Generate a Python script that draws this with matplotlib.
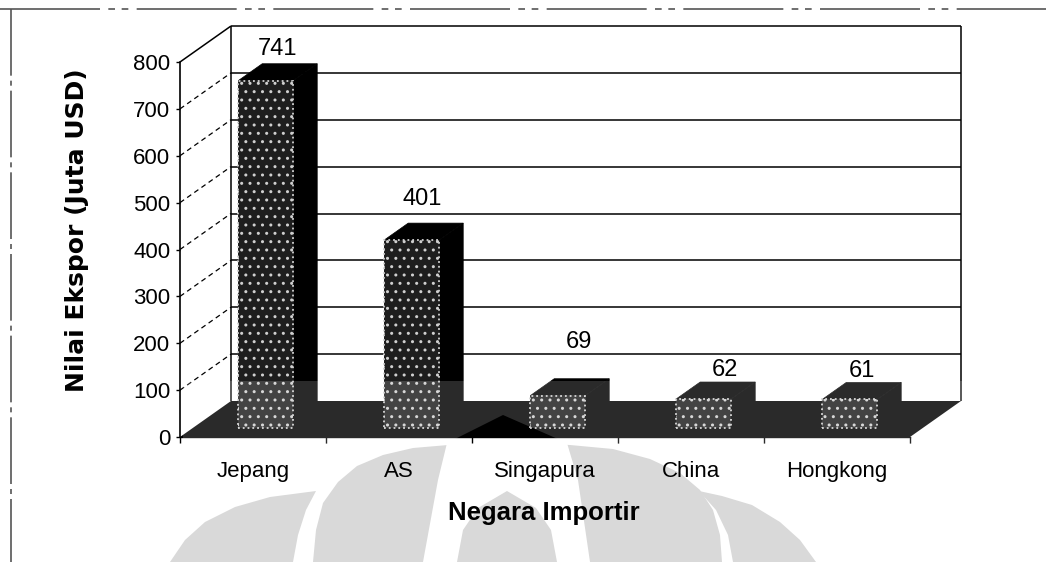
import matplotlib
matplotlib.use("Agg")
import matplotlib.pyplot as plt
from matplotlib.patches import Polygon
import numpy as np

# ---------------- data ----------------
categories = ["Jepang", "AS", "Singapura", "China", "Hongkong"]
values = [741, 401, 69, 62, 61]
y_ticks = [0, 100, 200, 300, 400, 500, 600, 700, 800]
x_label = "Negara Importir"
y_label = "Nilai Ekspor (Juta USD)"

# ---------------- style ----------------
plt.rcParams['font.family'] = ['Liberation Sans', 'DejaVu Sans']
W, H = 1046, 562
fig = plt.figure(figsize=(W / 100, H / 100), dpi=100)
fig.patch.set_facecolor('white')

# background layer in pixel coordinates (scan frame + watermark)
bg = fig.add_axes([0, 0, 1, 1], zorder=0)
bg.set_xlim(0, W)
bg.set_ylim(H, 0)
bg.axis('off')

wm = '#d9d9d9'
# watermark (logo) shapes
band_left = [(170, 562), (185, 540), (205, 522), (235, 507), (270, 497), (316, 491),
             (306, 510), (298, 535), (293, 562)]
band_right = [(816, 562), (800, 540), (780, 522), (752, 505), (722, 496), (699, 491),
              (716, 510), (728, 535), (733, 562)]
arch = [(313, 562), (316, 530), (323, 503), (338, 482), (357, 466), (383, 455), (413, 448),
        (460, 444), (520, 443), (570, 445), (613, 449), (650, 459), (680, 473), (700, 490),
        (713, 510), (720, 535), (722, 562)]
gap = [(423, 562), (438, 480), (447, 443), (567, 443), (578, 480), (590, 562)]
pillar = [(457, 562), (463, 530), (478, 508), (507, 491), (536, 508), (551, 530), (557, 562)]
for pts, col in [(band_left, wm), (band_right, wm), (arch, wm), (gap, 'white'), (pillar, wm)]:
    bg.add_patch(Polygon(pts, closed=True, facecolor=col, edgecolor='none'))
# scan frame
bg.plot([0, W], [9, 9], color='#555555', lw=1.2, ls=(0, (60, 5, 4, 4, 4, 5)))
bg.plot([11, 11], [9, H], color='#555555', lw=1.2, ls=(0, (40, 3, 3, 3)))

# ---------------- main axes (front plane) ----------------
x0_px, x1_px, y0_px, y1_px = 180, 910, 437, 62
ax = fig.add_axes([x0_px / W, 1 - y0_px / H, (x1_px - x0_px) / W, (y0_px - y1_px) / H], zorder=1)
ax.patch.set_alpha(0)
n = len(categories)
ax.set_xlim(-0.5, n - 0.5)
ax.set_ylim(0, y_ticks[-1])

# depth vector in data units (51 px right, 36 px up)
Dx = 51 / ((x1_px - x0_px) / n)
Dy = 36 / ((y0_px - y1_px) / y_ticks[-1])
xa, xb = -0.5, n - 0.5
ymax = y_ticks[-1]

kw = dict(clip_on=False, color='black', lw=1.1, solid_capstyle='butt')
# back wall frame
ax.plot([xa + Dx, xb + Dx], [ymax + Dy, ymax + Dy], zorder=1, **kw)
ax.plot([xb + Dx, xb + Dx], [Dy, ymax + Dy], zorder=1, **kw)
ax.plot([xa + Dx, xa + Dx], [Dy, ymax + Dy], zorder=1, **kw)
ax.plot([xa, xa + Dx], [ymax, ymax + Dy], zorder=1, **kw)
# gridlines on back wall and left wall
for v in y_ticks[1:-1]:
    ax.plot([xa + Dx, xb + Dx], [v + Dy, v + Dy], zorder=1, **kw)
    ax.plot([xa, xa + Dx], [v, v + Dy], zorder=1, clip_on=False, color='black',
            lw=0.9, ls=(0, (4, 3)))

# floor
ax.add_patch(Polygon([(xa, 0), (xb, 0), (xb + Dx, Dy), (xa + Dx, Dy)], closed=True,
                     facecolor='black', edgecolor='none', zorder=2, clip_on=False))

# bars
bw = 55 / ((x1_px - x0_px) / n)
f0, f1 = 0.25, 0.72
dd = f1 - f0
xs = np.arange(n)
ax.bar(xs + f0 * Dx, values, width=bw, bottom=f0 * Dy, facecolor='#1e1e1e',
       edgecolor='#d0d0d0', hatch='..', linestyle=':', linewidth=1.3, zorder=5, clip_on=False)
for i, v in enumerate(values):
    xl = i - bw / 2 + f0 * Dx
    xr = xl + bw
    yb = f0 * Dy
    yt = v + f0 * Dy
    side = [(xr, yb), (xr + dd * Dx, yb + dd * Dy), (xr + dd * Dx, yt + dd * Dy), (xr, yt)]
    top = [(xl, yt), (xr, yt), (xr + dd * Dx, yt + dd * Dy), (xl + dd * Dx, yt + dd * Dy)]
    for pts in (side, top):
        ax.add_patch(Polygon(pts, closed=True, facecolor='black', edgecolor='black',
                             lw=0.5, zorder=4, clip_on=False))

# scan overlay on lower part of the plot (watermark lightening)
overlay = [(183, 381), (966, 381), (966, 443), (567, 443), (503, 415), (447, 443), (183, 443)]
ax.add_patch(Polygon(overlay, closed=True, transform=bg.transData, facecolor='white',
                     alpha=0.17, edgecolor='none', zorder=6, clip_on=False))

# value labels
fm = (f0 + f1) / 2
label_dx_px = [0, -2, 9, 9, 0]
label_dy_px = [23, 33, 45, 20, 20]
for i, v in enumerate(values):
    ax.annotate(str(v), xy=(i + fm * Dx, v + fm * Dy),
                xytext=(label_dx_px[i] * 0.72, label_dy_px[i] * 0.72),
                textcoords='offset points', ha='center', va='center',
                fontsize=17, color='black', zorder=8, annotation_clip=False)

# axes styling
for s in ['top', 'right']:
    ax.spines[s].set_visible(False)
ax.spines['left'].set_linewidth(1.2)
ax.spines['bottom'].set_linewidth(1.0)
ax.spines['left'].set_zorder(7)
ax.set_yticks(y_ticks)
ax.tick_params(axis='y', direction='out', length=3, width=1, pad=4, labelsize=16)
ax.set_xticks(xs)
ax.set_xticklabels(categories)
ax.tick_params(axis='x', which='major', length=0, pad=17, labelsize=16)
ax.set_xticks(np.arange(-0.5, n), minor=True)
ax.tick_params(axis='x', which='minor', direction='out', length=4, width=1)

fig.text(77 / W, 1 - 230 / H, y_label, rotation=90, fontsize=18, fontweight='bold',
         family='DejaVu Sans', ha='center', va='center')
fig.text(544 / W, 1 - 513 / H, x_label, fontsize=18.5, fontweight='bold',
         ha='center', va='center')

fig.savefig('out.png', dpi=100, facecolor='white')
